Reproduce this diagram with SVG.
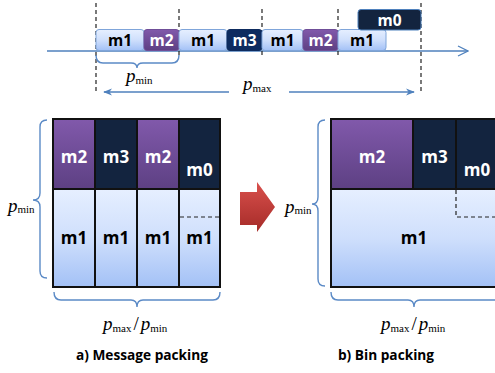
<svg xmlns="http://www.w3.org/2000/svg" width="495" height="373" viewBox="0 0 495 373">
  <defs>
    <linearGradient id="gM1" x1="0" y1="0" x2="0" y2="1">
      <stop offset="0" stop-color="#e6efff"/>
      <stop offset="0.5" stop-color="#cfdffc"/>
      <stop offset="1" stop-color="#a3c1f6"/>
    </linearGradient>
    <linearGradient id="gM2" x1="0" y1="0" x2="0" y2="1">
      <stop offset="0" stop-color="#8159ab"/>
      <stop offset="1" stop-color="#5d4083"/>
    </linearGradient>
    <linearGradient id="gRed" x1="0" y1="0" x2="0" y2="1">
      <stop offset="0" stop-color="#d9504c"/>
      <stop offset="1" stop-color="#a52b28"/>
    </linearGradient>
    <marker id="open" viewBox="0 0 12 12" refX="11" refY="6" markerWidth="12" markerHeight="12" markerUnits="userSpaceOnUse" orient="auto">
      <path d="M1,1 L11,6 L1,11" fill="none" stroke="#4f81bd" stroke-width="1.3"/>
    </marker>
    <marker id="head" viewBox="0 0 10 10" refX="9" refY="5" markerWidth="9" markerHeight="9" markerUnits="userSpaceOnUse" orient="auto">
      <path d="M0,1 L10,5 L0,9 L3,5 Z" fill="#4f81bd"/>
    </marker>
  </defs>
  <style>
    .lbl { font-family: "Open Sans", "Liberation Sans", sans-serif; font-weight: bold; font-size: 15.5px; text-anchor: middle; }
    .big { font-size: 17px; }
    .dk { fill: #ffffff; }
    .lt { fill: #000000; }
    .cap { font-family: "Open Sans", "Liberation Sans", sans-serif; font-weight: bold; font-size: 13.7px; text-anchor: middle; fill: #000; }
    .math { font-family: "Liberation Serif", "Times New Roman", serif; font-size: 19px; fill: #000; }
    .sub { font-size: 11px; font-style: normal; }
    .dash { stroke: #222; stroke-width: 1.2; stroke-dasharray: 4 3; fill: none; }
    .brace { fill: none; stroke: #5b8ac6; stroke-width: 1.4; }
    .blue { stroke: #4f81bd; stroke-width: 1.4; fill: none; }
    .tm1 { fill: url(#gM1); stroke: #7fa5da; stroke-width: 1; }
    .tm2 { fill: url(#gM2); stroke: #6f4e98; stroke-width: 1; }
    .tm3 { fill: #0d2b5f; stroke: #0d2b5f; stroke-width: 1; }
    .tm0 { fill: #13243f; stroke: #4f81bd; stroke-width: 1; }
    .cell1 { fill: url(#gM1); stroke: #111; stroke-width: 2; }
    .cell2 { fill: url(#gM2); stroke: #111; stroke-width: 2; }
    .cellD { fill: #13243f; stroke: #111; stroke-width: 2; }
  </style>

  <!-- timeline axis, dashed period marks and spans -->
  <g id="connectors">
    <line x1="47" y1="51" x2="468" y2="51" class="blue" marker-end="url(#open)"/>
    <line x1="229" y1="92" x2="104" y2="92" class="blue" marker-end="url(#head)"/>
    <line x1="289" y1="92" x2="414" y2="92" class="blue" marker-end="url(#head)"/>
    <line x1="96" y1="3" x2="96" y2="93" class="dash"/>
    <line x1="179" y1="9" x2="179" y2="57" class="dash"/>
    <line x1="262" y1="9" x2="262" y2="57" class="dash"/>
    <line x1="338" y1="9" x2="338" y2="57" class="dash"/>
    <line x1="421" y1="3" x2="421" y2="93" class="dash"/>
    <!-- braces -->
    <path class="brace" d="M96,55 Q96,63 103,63 L131,63 Q137,63 137,68 Q137,63 143,63 L172,63 Q179,63 179,55"/>
    <path class="brace" d="M47,120 Q40,120 40,127 L40,193 Q40,200 33,200 Q40,200 40,207 L40,271 Q40,278 47,278"/>
    <path class="brace" d="M325,120 Q318,120 318,127 L318,197 Q318,204 312,204 Q318,204 318,211 L318,279 Q318,286 325,286"/>
    <path class="brace" d="M54,292 Q54,300 61,300 L131,300 Q137,300 137,307 Q137,300 143,300 L213,300 Q220,300 220,292"/>
    <path class="brace" d="M331,292 Q331,300 338,300 L408,300 Q414,300 414,307 Q414,300 420,300 L500,300"/>
  </g>

  <!-- timeline messages -->
  <g id="t-m1a"><rect x="96" y="29.5" width="48" height="21" rx="3" class="tm1"/><text x="120" y="46" class="lbl lt">m1</text></g>
  <g id="t-m2a"><rect x="144" y="29.5" width="35" height="21" rx="3" class="tm2"/><text x="161.5" y="46" class="lbl dk">m2</text></g>
  <g id="t-m1b"><rect x="179" y="29.5" width="48" height="21" rx="3" class="tm1"/><text x="203" y="46" class="lbl lt">m1</text></g>
  <g id="t-m3"><rect x="227" y="29.5" width="35" height="21" rx="3" class="tm3"/><text x="244.5" y="46" class="lbl dk">m3</text></g>
  <g id="t-m1c"><rect x="262" y="29.5" width="41" height="21" rx="3" class="tm1"/><text x="282.5" y="46" class="lbl lt">m1</text></g>
  <g id="t-m2b"><rect x="303" y="29.5" width="35" height="21" rx="3" class="tm2"/><text x="320.5" y="46" class="lbl dk">m2</text></g>
  <g id="t-m1d"><rect x="338" y="29.5" width="48" height="21" rx="3" class="tm1"/><text x="362" y="46" class="lbl lt">m1</text></g>
  <g id="t-m0"><rect x="358" y="9.5" width="63" height="20.5" rx="3" class="tm0"/><text x="389.5" y="25.5" class="lbl dk">m0</text></g>

  <!-- period labels -->
  <g id="lbl-pmin-top"><text x="126" y="82" class="math"><tspan font-style="italic">p</tspan><tspan class="sub" dy="2">min</tspan></text></g>
  <g id="lbl-pmax"><text x="243" y="90" class="math"><tspan font-style="italic">p</tspan><tspan class="sub" dy="2">max</tspan></text></g>

  <!-- a) message packing grid -->
  <g id="grid-a">
    <rect x="53" y="119" width="42" height="70" class="cell2"/>
    <rect x="95" y="119" width="42" height="70" class="cellD"/>
    <rect x="137" y="119" width="42" height="70" class="cell2"/>
    <rect x="179" y="119" width="41" height="70" class="cellD"/>
    <rect x="53" y="189" width="42" height="98" class="cell1"/>
    <rect x="95" y="189" width="42" height="98" class="cell1"/>
    <rect x="137" y="189" width="42" height="98" class="cell1"/>
    <rect x="179" y="189" width="41" height="98" class="cell1"/>
    <line x1="180" y1="217" x2="220" y2="217" class="dash"/>
    <text x="74" y="163" class="lbl big dk">m2</text>
    <text x="116" y="163" class="lbl big dk">m3</text>
    <text x="158" y="163" class="lbl big dk">m2</text>
    <text x="199.5" y="176" class="lbl big dk">m0</text>
    <text x="74" y="244" class="lbl big lt">m1</text>
    <text x="116" y="244" class="lbl big lt">m1</text>
    <text x="158" y="244" class="lbl big lt">m1</text>
    <text x="199.5" y="244" class="lbl big lt">m1</text>
  </g>
  <g id="lbl-pmin-a"><text x="8" y="212" class="math" font-size="16"><tspan font-style="italic">p</tspan><tspan class="sub" font-size="9" dy="1">min</tspan></text></g>
  <g id="lbl-ratio-a"><text x="103" y="330" class="math"><tspan font-style="italic">p</tspan><tspan class="sub" dy="2">max</tspan><tspan dy="-2" dx="2">/</tspan><tspan font-style="italic" dx="2">p</tspan><tspan class="sub" dy="2">min</tspan></text></g>
  <g id="cap-a"><text x="142" y="360" class="cap">a) Message packing</text></g>

  <!-- transformation arrow -->
  <g id="arrow"><path d="M240,192 L257,192 L257,182 L275,207 L257,232 L257,225 L240,225 Z" fill="url(#gRed)"/></g>

  <!-- b) bin packing grid -->
  <g id="grid-b">
    <rect x="331" y="189" width="170" height="98" class="cell1"/>
    <rect x="331" y="119" width="82" height="70" class="cell2"/>
    <rect x="413" y="119" width="43" height="70" class="cellD"/>
    <rect x="456" y="119" width="45" height="70" class="cellD"/>
    <path d="M456,190 L456,217 L500,217" class="dash"/>
    <text x="372" y="163" class="lbl big dk">m2</text>
    <text x="434.5" y="163" class="lbl big dk">m3</text>
    <text x="477" y="176" class="lbl big dk">m0</text>
    <text x="414" y="244" class="lbl big lt">m1</text>
  </g>
  <g id="lbl-pmin-b"><text x="285" y="213" class="math" font-size="16"><tspan font-style="italic">p</tspan><tspan class="sub" font-size="9" dy="1">min</tspan></text></g>
  <g id="lbl-ratio-b"><text x="381" y="330" class="math"><tspan font-style="italic">p</tspan><tspan class="sub" dy="2">max</tspan><tspan dy="-2" dx="2">/</tspan><tspan font-style="italic" dx="2">p</tspan><tspan class="sub" dy="2">min</tspan></text></g>
  <g id="cap-b"><text x="386" y="360" class="cap">b) Bin packing</text></g>
</svg>
